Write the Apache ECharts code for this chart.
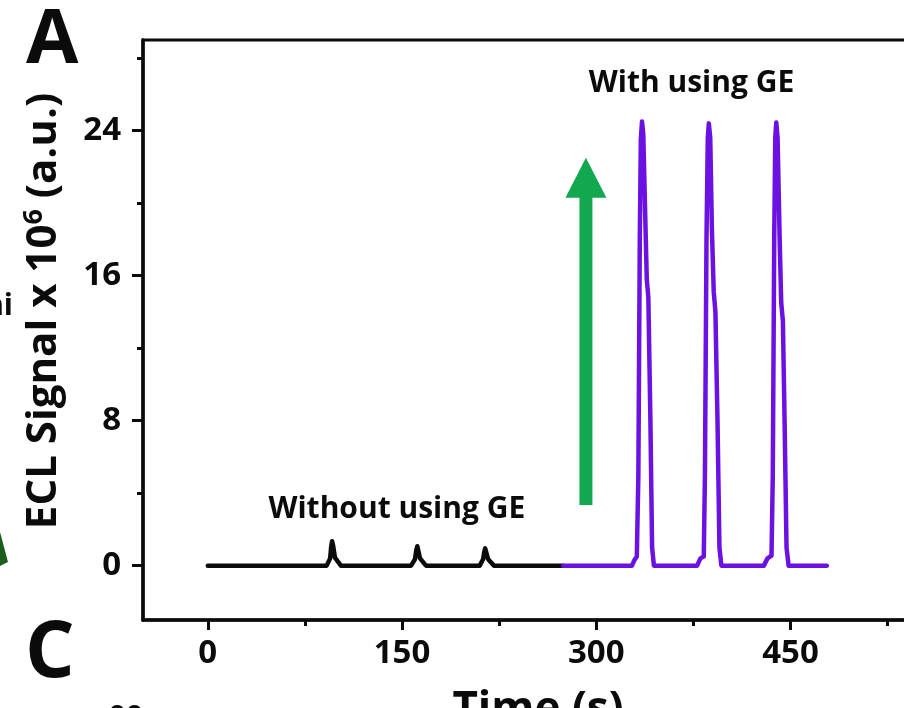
<!DOCTYPE html>
<html>
<head>
<meta charset="utf-8">
<script src="https://cdn.jsdelivr.net/npm/echarts@6/dist/echarts.min.js"></script>
<style>
  html, body { margin: 0; padding: 0; background: #fff; }
  #chart { width: 904px; height: 708px; }
</style>
</head>
<body>
<div id="chart"></div>
<script>
// time (s) and signal (x 10^6 a.u.)
const timeWithout = [0, 91.8, 94.5, 95.3, 96, 96.8, 98.2, 102.8, 157, 160, 161, 161.8, 162.5, 163.9, 168.5, 210, 212.6, 213.5, 214.2, 215, 216.5, 221, 274.5];
const signalWithout = [0, 0, 0.4, 1.05, 1.35, 1.1, 0.44, 0, 0, 0.35, 0.85, 1.07, 0.85, 0.4, 0, 0, 0.35, 0.75, 0.95, 0.75, 0.35, 0, 0];

const timeWith = [274.5,
                  327.6, 329.4, 331.3, 332.5, 333.6, 334.4, 335.3, 336.3, 337.9, 339.0, 340.2, 341.8, 343.1, 344.5,
                  377.9, 380.4, 383.0, 383.9, 385.1, 386.1, 386.9, 388.0, 389.3, 390.7, 392.0, 393.6, 395.1, 396.6,
                  429.4, 432.2, 435.3, 436.3, 437.4, 438.2, 439.0, 440.0, 441.6, 442.8, 444.1, 445.4, 446.9, 448.5,
                  478];
const signalWith = [0,
                    0, 0.3, 0.5, 5, 18, 23.5, 24.5, 23.8, 19, 15.8, 14.8, 8, 1, 0,
                    0, 0.4, 0.5, 5, 18, 23.6, 24.4, 23.6, 18.5, 15.1, 14, 8, 1, 0,
                    0, 0.4, 0.55, 5, 18, 23.6, 24.45, 23.6, 18, 14.5, 13.5, 8, 1, 0,
                    0];

const xLabels = [0, 150, 300, 450];
const xMinor = [75, 225, 375, 525];
const yLabels = [0, 8, 16, 24];
const yMinor = [4, 12, 20, 28];

// annotation anchors in data units
const noteWithout = { text: 'Without using GE', at: [146, 3.1] };
const noteWith = { text: 'With using GE', at: [373.5, 26.6] };
const arrowFrom = [292, 3.35];
const arrowTo = [292, 22.5];

const FONT = '"Open Sans", "DejaVu Sans", sans-serif';
const BLACK = '#0b0b0b';
const PURPLE = '#6b12e2';
const GREEN = '#12a84f';

function zip(xs, ys) {
    return xs.map((x, i) => [x, ys[i]]);
}

const chart = echarts.init(document.getElementById('chart'), null, { renderer: 'canvas' });

const tickLabel = {
    fontFamily: FONT, fontWeight: 'bold', fontSize: 33, color: BLACK
};

chart.setOption({
    animation: false,
    backgroundColor: '#fff',
    grid: {
        left: 143, top: 40, right: -29, bottom: 88,
        containLabel: false, outerBoundsMode: 'none',
        show: true, borderColor: BLACK, borderWidth: 3, backgroundColor: 'transparent'
    },
    xAxis: [{
        type: 'value', min: -50, max: 560,
        name: 'Time (s)', nameLocation: 'middle', nameGap: 68,
        nameTextStyle: { fontFamily: FONT, fontWeight: 'bold', fontSize: 44, color: BLACK },
        axisLine: { show: true, onZero: false, lineStyle: { color: BLACK, width: 3.5 } },
        axisTick: { show: true, inside: false, length: 10, lineStyle: { color: BLACK, width: 3 }, customValues: xLabels },
        axisLabel: Object.assign({ margin: 17, customValues: xLabels }, tickLabel),
        splitLine: { show: false }
    }, {
        type: 'value', min: -50, max: 560, position: 'bottom',
        axisLine: { show: false, onZero: false },
        axisTick: { show: true, inside: false, length: 6, lineStyle: { color: BLACK, width: 3 }, customValues: xMinor },
        axisLabel: { show: false },
        splitLine: { show: false }
    }],
    yAxis: [{
        type: 'value', min: -3, max: 29,
        name: '{t|ECL Signal x 10}{s|6}{t| (a.u.)}',
        nameLocation: 'middle', nameGap: 76,
        nameTextStyle: {
            padding: [0, 0, 0, 38],
            rich: {
                t: { fontFamily: FONT, fontWeight: 'bold', fontSize: 42, color: BLACK, lineHeight: 46 },
                s: { fontFamily: FONT, fontWeight: 'bold', fontSize: 27, color: BLACK, verticalAlign: 'top', lineHeight: 46 }
            }
        },
        axisLine: { show: true, onZero: false, lineStyle: { color: BLACK, width: 3.5 } },
        axisTick: { show: true, inside: false, length: 11, lineStyle: { color: BLACK, width: 3 }, customValues: yLabels },
        axisLabel: Object.assign({ margin: 22, customValues: yLabels }, tickLabel),
        splitLine: { show: false }
    }, {
        type: 'value', min: -3, max: 29, position: 'left',
        axisLine: { show: false, onZero: false },
        axisTick: { show: true, inside: false, length: 6, lineStyle: { color: BLACK, width: 3 }, customValues: yMinor },
        axisLabel: { show: false },
        splitLine: { show: false }
    }],
    series: [{
        name: 'Without using GE',
        type: 'line',
        data: zip(timeWithout, signalWithout),
        showSymbol: false,
        lineStyle: { color: BLACK, width: 4.5, join: 'round', cap: 'round' },
        z: 3
    }, {
        name: 'With using GE',
        type: 'line',
        data: zip(timeWith, signalWith),
        showSymbol: false,
        lineStyle: { color: PURPLE, width: 4.5, join: 'round', cap: 'round' },
        z: 4
    }]
});

// annotations placed through the chart's own scales
const px = p => chart.convertToPixel({ gridIndex: 0 }, p);
const a = px(noteWithout.at);
const b = px(noteWith.at);
const base = px(arrowFrom);
const tip = px(arrowTo);
const shaftW = 13, headW = 41, headH = 40;

chart.setOption({
    graphic: [
        {
            type: 'text', x: a[0], y: a[1], z: 10,
            style: { text: noteWithout.text, fontFamily: FONT, fontWeight: 'bold', fontSize: 30, fill: BLACK, align: 'center', verticalAlign: 'middle' }
        },
        {
            type: 'text', x: b[0], y: b[1], z: 10,
            style: { text: noteWith.text, fontFamily: FONT, fontWeight: 'bold', fontSize: 30, fill: BLACK, align: 'center', verticalAlign: 'middle' }
        },
        {
            type: 'polygon', z: 10,
            shape: {
                points: [
                    [base[0] - shaftW / 2, base[1]],
                    [base[0] - shaftW / 2, tip[1] + headH],
                    [base[0] - headW / 2, tip[1] + headH],
                    [tip[0], tip[1]],
                    [base[0] + headW / 2, tip[1] + headH],
                    [base[0] + shaftW / 2, tip[1] + headH],
                    [base[0] + shaftW / 2, base[1]]
                ]
            },
            style: { fill: GREEN }
        },
        // panel letters and clipped bits of the neighbouring panels
        {
            type: 'text', x: 26, y: 41, z: 10,
            style: { text: 'A', fontFamily: FONT, fontWeight: 'bold', fontSize: 76, fill: BLACK, align: 'left', verticalAlign: 'middle' }
        },
        {
            type: 'text', x: 25, y: 655, z: 10,
            style: { text: 'C', fontFamily: FONT, fontWeight: 'bold', fontSize: 78, fill: BLACK, align: 'left', verticalAlign: 'middle' }
        },
        {
            type: 'text', x: 13, y: 306, z: 10,
            style: { text: 'ni', fontFamily: FONT, fontWeight: 'bold', fontSize: 30, fill: BLACK, align: 'right', verticalAlign: 'middle' }
        },
        {
            type: 'text', x: 126, y: 718, z: 10,
            style: { text: '00', fontFamily: FONT, fontWeight: 'bold', fontSize: 30, fill: BLACK, align: 'center', verticalAlign: 'middle' }
        },
        {
            type: 'polygon', z: 10,
            shape: { points: [[0, 532], [8, 562], [0, 566]] },
            style: { fill: '#1b5e20' }
        }
    ]
});
</script>
</body>
</html>
